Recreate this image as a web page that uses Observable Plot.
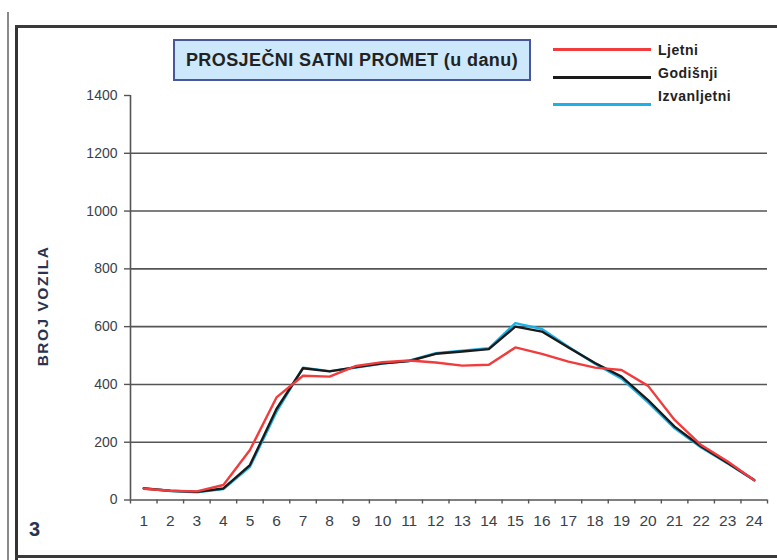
<!DOCTYPE html>
<html>
<head>
<meta charset="utf-8">
<script src="https://cdn.jsdelivr.net/npm/d3@7"></script>
<script src="https://cdn.jsdelivr.net/npm/@observablehq/plot@0.6"></script>
<style>
  html, body { margin: 0; padding: 0; background: #fff; }
  #wrap { position: relative; width: 777px; height: 560px; overflow: hidden; font-family: "Liberation Sans", Arial, sans-serif; }
  #wrap svg { position: absolute; left: 0; top: 0; }
  .ov { position: absolute; }
  .narrow { font-family: "Liberation Sans", Arial, sans-serif; font-weight: bold; }
</style>
</head>
<body>
<div id="wrap"></div>
<script>
// ---- data ----
const hours = [1,2,3,4,5,6,7,8,9,10,11,12,13,14,15,16,17,18,19,20,21,22,23,24];
const ljetni = [39,32,30,52,173,355,430,427,464,477,483,476,465,468,528,506,479,458,450,395,277,190,133,68];
const godisnji = [40,32,28,40,121,315,456,445,460,473,481,506,514,522,600,583,528,474,427,346,254,185,128,69];
const izvanljetni = [41,31,27,38,115,305,458,446,458,472,482,508,517,525,612,592,530,472,420,338,248,182,126,68];
const yTicks = [0,200,400,600,800,1000,1200,1400];
const gridTicks = [200,400,600,800,1000,1200];
const seriesNames = ["Ljetni", "Godišnji", "Izvanljetni"];
const seriesColors = ["#f03c3c", "#1a1a1a", "#1cb2e6"];
const titleText = "PROSJEČNI SATNI PROMET (u danu)";
const yLabel = "BROJ VOZILA";
const panelNo = "3";

const toRows = (vals) => hours.map((h, i) => ({hour: h, value: vals[i]}));
const boundaries = hours.map(h => h - 0.5).concat([24.5]);

const plot = Plot.plot({
  width: 777,
  height: 560,
  marginLeft: 130,
  marginRight: 10,
  marginTop: 95,
  marginBottom: 60.5,
  style: {fontFamily: "'Liberation Sans', Arial, sans-serif", color: "#333", background: "transparent"},
  x: {type: "linear", domain: [0.5, 24.5], axis: null},
  y: {domain: [0, 1400], axis: null},
  marks: [
    Plot.ruleY(gridTicks, {stroke: "#555", strokeWidth: 1.6}),
    Plot.ruleY([0], {stroke: "#555", strokeWidth: 1.6}),
    Plot.ruleX([0.5], {y1: 0, y2: 1400, stroke: "#555", strokeWidth: 1.6}),
    Plot.axisY({ticks: yTicks, label: null, tickSize: 6, tickPadding: 0, tickFormat: () => "", stroke: "#555", strokeWidth: 1.4}),
    Plot.text(yTicks, {x: () => 0.5, y: d => d, text: d => String(d), dx: -13, textAnchor: "end", fontSize: 14, fill: "#3a3f4a", letterSpacing: "0.4px"}),
    Plot.axisX({ticks: boundaries, label: null, tickSize: 4, tickFormat: () => "", stroke: "#555", strokeWidth: 1.4}),
    Plot.text(hours, {x: d => d, y: () => 0, text: d => String(d), dy: 21, fontSize: 15.5, fill: "#3a3f4a", letterSpacing: "0.3px"}),
    Plot.line(toRows(izvanljetni), {x: "hour", y: "value", stroke: seriesColors[2], strokeWidth: 2.4}),
    Plot.line(toRows(godisnji), {x: "hour", y: "value", stroke: seriesColors[1], strokeWidth: 2.4}),
    Plot.line(toRows(ljetni), {x: "hour", y: "value", stroke: seriesColors[0], strokeWidth: 2.4})
  ]
});

const wrap = document.getElementById("wrap");
wrap.appendChild(plot);

function add(html) { wrap.insertAdjacentHTML("beforeend", html); }

// frame
add('<div class="ov" style="left:7px;top:12px;width:2px;height:548px;background:#8a8a8a"></div>');
add('<div class="ov" style="left:15px;top:25px;width:3px;height:535px;background:#333"></div>');
add('<div class="ov" style="left:15px;top:25px;width:770px;height:3px;background:#3a3a3a"></div>');
add('<div class="ov" style="left:15px;top:555px;width:770px;height:3px;background:#3a3a3a"></div>');

// title box
add('<div class="ov narrow" style="left:173px;top:39px;width:354px;height:38px;background:#cde8fa;border:2px solid #4a55a0;box-sizing:content-box;display:flex;align-items:center;justify-content:center;font-size:18px;letter-spacing:0.4px;color:#222;">' + titleText + '</div>');

// legend
const legY = [49, 77, 104];
const legTextY = [50, 73, 96];
seriesNames.forEach((n, i) => {
  add('<div class="ov" style="left:553px;top:' + (legY[i] - 1.5) + 'px;width:98px;height:3px;background:' + seriesColors[i] + '"></div>');
  add('<div class="ov narrow" style="left:658px;top:' + (legTextY[i] - 8) + 'px;font-size:14px;letter-spacing:0.5px;line-height:16px;color:#222;">' + n + '</div>');
});

// y label
add('<div class="ov" style="left:43px;top:306px;transform:translate(-50%,-50%) rotate(-90deg);white-space:nowrap;font-weight:bold;font-size:15.5px;letter-spacing:1.5px;color:#2a3450;">' + yLabel + '</div>');

// panel number
add('<div class="ov" style="left:29px;top:518px;font-weight:bold;font-size:20px;color:#2a3450;">' + panelNo + '</div>');
</script>
</body>
</html>
